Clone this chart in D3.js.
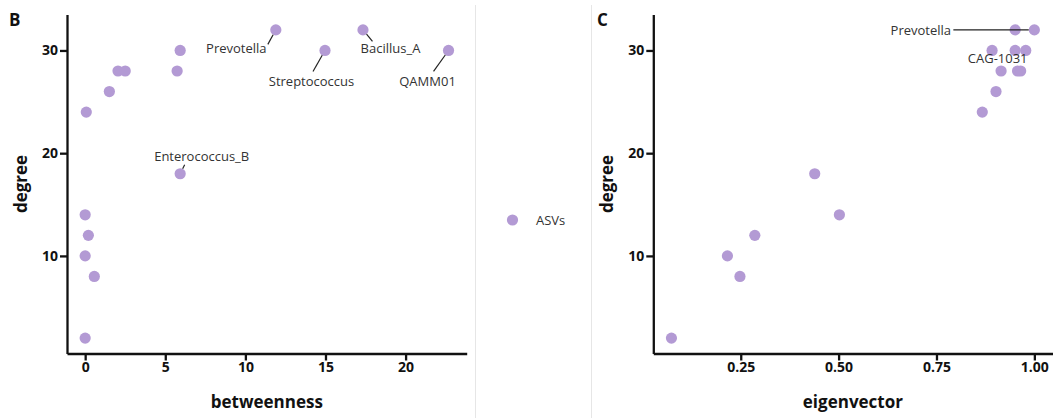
<!DOCTYPE html>
<html>
<head>
<meta charset="utf-8">
<script src="https://cdn.jsdelivr.net/npm/d3@7"></script>
<style>
  html, body { margin: 0; padding: 0; background: #fff; }
  svg { display: block; font-family: "Open Sans", "Noto Sans", sans-serif; }
</style>
</head>
<body>
<svg id="chart" width="1053" height="418"></svg>
<script>
// Network node centralities (one entry per ASV)
const degree      = [2, 8, 10, 12, 14, 18, 24, 26, 28, 28, 28, 30, 30, 30, 32, 32];
const betweenness = [0, 0.57, 0, 0.2, 0, 5.93, 0.07, 1.51, 2.05, 2.5, 5.74, 5.93, 14.97, 22.68, 11.9, 17.34];
const eigenvector = [0.073, 0.248, 0.216, 0.286, 0.502, 0.439, 0.867, 0.902, 0.915, 0.957, 0.965, 0.951, 0.892, 0.978, 1.0, 0.951];
const taxa        = ["", "", "", "", "", "Enterococcus_B", "", "", "", "", "", "CAG-1031", "Streptococcus", "QAMM01", "Prevotella", "Bacillus_A"];

// Which taxa get a label in each panel
const labelsB = ["Prevotella", "Streptococcus", "Bacillus_A", "QAMM01", "Enterococcus_B"];
const labelsC = ["Prevotella", "CAG-1031"];

const degreeTicks = [10, 20, 30];
const betweennessTicks = [0, 5, 10, 15, 20];
const eigenvectorTicks = [0.25, 0.5, 0.75, 1.0];

const seriesName = "ASVs";

const pointColor = "#b39ad4";
const r = 5.6;

const svg = d3.select("#chart");

// panel separators
[475.5, 591.5].forEach(x => {
  svg.append("line").attr("x1", x).attr("x2", x).attr("y1", 5).attr("y2", 418)
    .attr("stroke", "#e6e6e6").attr("stroke-width", 1);
});

function expand(ext) {
  const pad = (ext[1] - ext[0]) * 0.05;
  return [ext[0] - pad, ext[1] + pad];
}

const yScale = d3.scaleLinear().domain(expand(d3.extent(degree))).range([353.5, 14.5]);

// label placement: text centre and segment start, relative to the point
const placeB = {
  "Prevotella":     { dx: -39.5, dy: 18.5, sx: -8,  sy: 14.5 },
  "Streptococcus":  { dx: -13.5, dy: 30.5, sx: -12, sy: 21 },
  "Bacillus_A":     { dx: 27.5,  dy: 18.5, sx: 9.5, sy: 11.5 },
  "QAMM01":         { dx: -21,   dy: 30.5, sx: -15, sy: 21 },
  "Enterococcus_B": { dx: 21.5,  dy: -17.5, sx: 4.5, sy: -9 }
};
const placeC = {
  "Prevotella": { dx: -113.5, dy: 0.5, sx: -81, sy: 0 },
  "CAG-1031":   { dx: -17.5,  dy: 7.5, sx: null, sy: null }
};

function panel(opts) {
  const { xs, x0, x1, ticks, fmt, title, letter, letterX, labels, place } = opts;
  const xScale = d3.scaleLinear().domain(expand(d3.extent(xs))).range([x0, x1]);
  const g = svg.append("g");

  // axes
  const ax = g.append("g").attr("transform", `translate(0,${yScale.range()[0]})`)
    .call(d3.axisBottom(xScale).tickValues(ticks).tickFormat(fmt).tickSize(7).tickSizeOuter(0).tickPadding(2));
  const ay = g.append("g").attr("transform", `translate(${x0},0)`)
    .call(d3.axisLeft(yScale).tickValues(degreeTicks).tickFormat(d3.format("d")).tickSize(7).tickSizeOuter(0).tickPadding(2));
  [ax, ay].forEach(a => {
    a.select(".domain").attr("stroke", "#111").attr("stroke-width", 2.3);
    a.selectAll(".tick line").attr("stroke", "#111").attr("stroke-width", 2.3);
    a.selectAll(".tick text").attr("fill", "#111").attr("font-size", 14).attr("font-weight", 700)
      .attr("font-family", "'Open Sans', sans-serif");
  });

  // axis titles
  g.append("text").attr("x", (x0 + x1) / 2).attr("y", 408).attr("text-anchor", "middle")
    .attr("font-size", 17).attr("font-weight", 700).attr("fill", "#111").text(title);
  g.append("text").attr("transform", `translate(${x0 - 40},${(yScale.range()[0] + yScale.range()[1]) / 2}) rotate(-90)`)
    .attr("text-anchor", "middle").attr("font-size", 17).attr("font-weight", 700).attr("fill", "#111").text("degree");
  g.append("text").attr("x", letterX).attr("y", 26).attr("font-size", 17).attr("font-weight", 700)
    .attr("fill", "#111").text(letter);

  // points
  const idx = d3.range(degree.length);
  g.append("g").selectAll("circle").data(idx).join("circle")
    .attr("cx", i => xScale(xs[i])).attr("cy", i => yScale(degree[i]))
    .attr("r", r).attr("fill", pointColor);

  // labels with leader segments ending at the point's edge
  labels.forEach(name => {
    const i = taxa.indexOf(name);
    const px = xScale(xs[i]), py = yScale(degree[i]);
    const p = place[name];
    if (p.sx !== null) {
      const len = Math.hypot(p.sx, p.sy);
      const ex = px + p.sx * (r / len), ey = py + p.sy * (r / len);
      g.append("line").attr("x1", px + p.sx).attr("y1", py + p.sy)
        .attr("x2", ex).attr("y2", ey)
        .attr("stroke", "#222").attr("stroke-width", 1.2);
    }
    g.append("text").attr("x", px + p.dx).attr("y", py + p.dy)
      .attr("text-anchor", "middle").attr("dominant-baseline", "central")
      .attr("font-size", 13).attr("fill", "#333").text(name);
  });
}

panel({ xs: betweenness, x0: 67, x1: 466.7, ticks: betweennessTicks, fmt: d3.format("d"),
  title: "betweenness", letter: "B", letterX: 9, labels: labelsB, place: placeB });
panel({ xs: eigenvector, x0: 653.3, x1: 1052.5, ticks: eigenvectorTicks, fmt: d3.format(".2f"),
  title: "eigenvector", letter: "C", letterX: 597, labels: labelsC, place: placeC });

// legend
const lg = svg.append("g").attr("transform", "translate(512.5,220)");
lg.append("circle").attr("r", r).attr("fill", pointColor);
lg.append("text").attr("x", 23.5).attr("y", 0).attr("dominant-baseline", "central")
  .attr("font-size", 13).attr("fill", "#333").text(seriesName);
</script>
</body>
</html>
